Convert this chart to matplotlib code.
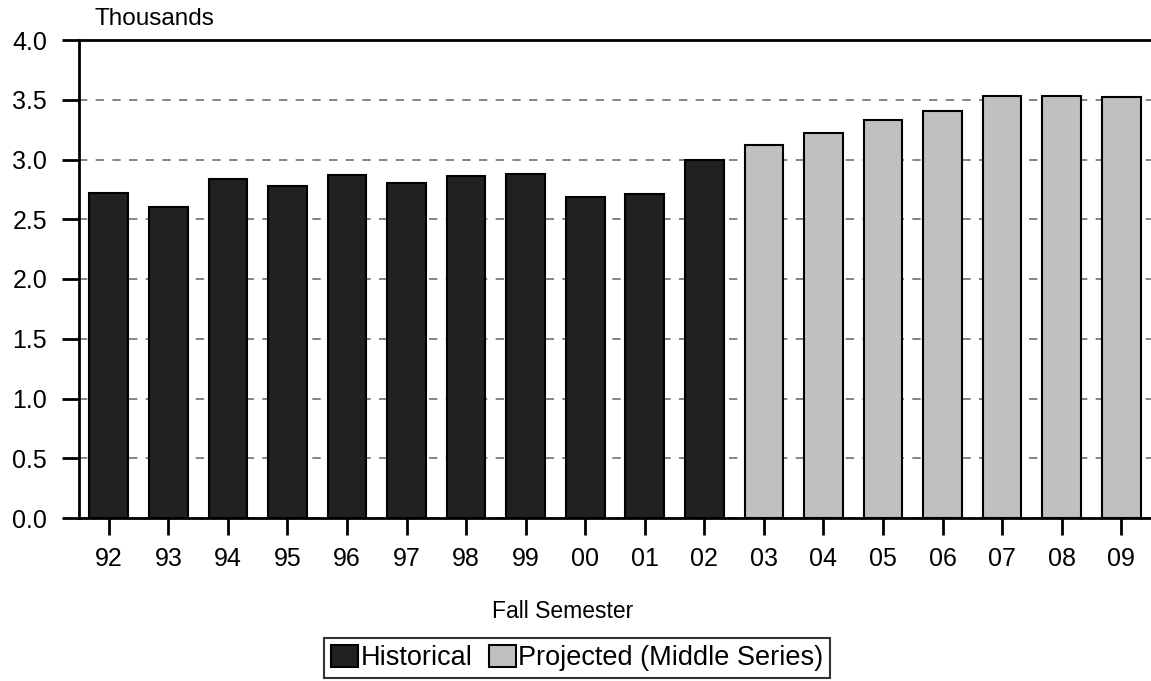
import matplotlib
matplotlib.use("Agg")
import matplotlib.pyplot as plt
from matplotlib.patches import Patch

plt.rcParams['font.family'] = ['Liberation Sans', 'DejaVu Sans']

years = ['92', '93', '94', '95', '96', '97', '98', '99', '00', '01', '02',
         '03', '04', '05', '06', '07', '08', '09']
historical = [2.72, 2.605, 2.84, 2.78, 2.87, 2.80, 2.86, 2.875, 2.69, 2.71, 3.00]
projected = [3.12, 3.22, 3.33, 3.41, 3.53, 3.535, 3.52]

dark = '#212121'
light = '#c0c0c0'

fig = plt.figure(figsize=(11.51, 6.81), dpi=100)
ax = fig.add_axes([79 / 1151, 1 - 518 / 681, 1 - 79 / 1151, (518 - 40) / 681])

n_hist = len(historical)
x_hist = list(range(n_hist))
x_proj = list(range(n_hist, n_hist + len(projected)))

ax.bar(x_hist, historical, width=0.65, color=dark, edgecolor='black', linewidth=1.5, zorder=3)
ax.bar(x_proj, projected, width=0.65, color=light, edgecolor='black', linewidth=1.5, zorder=3)

ax.set_xlim(-0.5, len(years) - 0.5)
ax.set_ylim(0, 4.0)
ax.set_yticks([i * 0.5 for i in range(9)])
ax.set_yticklabels([f'{i * 0.5:.1f}' for i in range(9)], fontsize=18)
ax.set_xticks(range(len(years)))
ax.set_xticklabels(years, fontsize=18)

ax.yaxis.grid(True, linestyle=(0, (5, 5)), color='#707070', linewidth=1.2, zorder=0)
ax.set_axisbelow(True)

for s in ['left', 'top', 'bottom']:
    ax.spines[s].set_linewidth(2)
    ax.spines[s].set_color('black')
ax.spines['right'].set_visible(False)
ax.tick_params(axis='both', direction='out', length=12, width=2)
ax.tick_params(axis='x', pad=9)
ax.tick_params(axis='y', pad=11)

fig.text(95 / 1151, 1 - 25 / 681, 'Thousands', fontsize=17.5, ha='left', va='baseline')
fig.text(563 / 1151, 1 - 612 / 681, 'Fall Semester', fontsize=16.5, ha='center', va='center')

handles = [Patch(facecolor=dark, edgecolor='black', linewidth=1.5, label='Historical'),
           Patch(facecolor=light, edgecolor='black', linewidth=1.5, label='Projected (Middle Series)')]
leg = fig.legend(handles=handles, loc='center', bbox_to_anchor=(577 / 1151, 1 - 658 / 681),
                 ncol=2, fontsize=19.5, frameon=True, fancybox=False, edgecolor='black',
                 handlelength=1.0, handleheight=0.9, handletextpad=0.1, columnspacing=0.6,
                 borderpad=0.25, borderaxespad=0)
leg.get_frame().set_linewidth(1.5)

fig.savefig('out.png', dpi=100)
